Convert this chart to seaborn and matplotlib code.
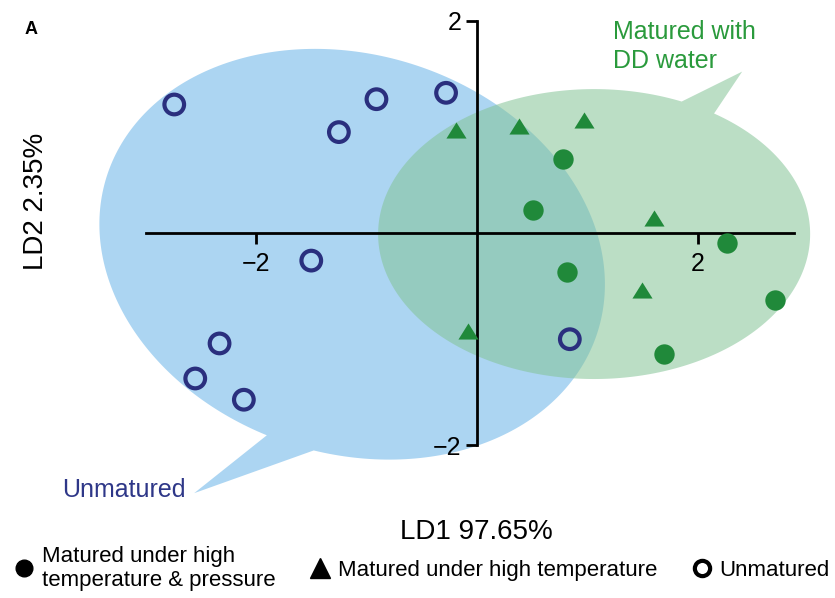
import numpy as np
import pandas as pd
import matplotlib
matplotlib.use("Agg")
import matplotlib.pyplot as plt
from matplotlib.patches import Polygon
from matplotlib.lines import Line2D
import seaborn as sns

# LDA scores
unmat_x = [-2.74, -0.91, -1.25, -0.28, -1.50, -2.33, -2.55, -2.11, 0.84]
unmat_y = [1.21, 1.26, 0.95, 1.32, -0.26, -1.04, -1.37, -1.57, -1.00]
htp_x = [0.78, 0.51, 2.26, 0.81, 2.70, 1.69]
htp_y = [0.70, 0.22, -0.09, -0.37, -0.63, -1.14]
ht_x = [-0.19, 0.38, 0.97, 1.60, 1.49, -0.08]
ht_y = [0.97, 1.01, 1.06, 0.14, -0.54, -0.92]

ld1_label = "LD1 97.65%"
ld2_label = "LD2 2.35%"
legend_labels = ["Matured under high\ntemperature & pressure",
                 "Matured under high temperature", "Unmatured"]

# speech bubbles: centre, semi-axes, angle (deg), tail (base1, tip, base2)
blue_bubble = dict(c=(-1.13, -0.20), a=2.34, b=1.87, ang=-20.5,
                   tail=[(-1.90, -1.90), (-2.56, -2.45), (-1.48, -2.06)])
green_bubble = dict(c=(1.06, -0.01), a=1.955, b=1.365, ang=0.0,
                    tail=[(1.86, 1.25), (2.40, 1.52), (2.15, 1.13)])

NAVY = "#2a2f7e"
GREEN = "#20893a"


def bubble_path(c, a, b, ang, tail):
    th = np.deg2rad(ang)
    rot = np.array([[np.cos(th), -np.sin(th)], [np.sin(th), np.cos(th)]])

    def param(p):
        d = rot.T @ (np.array(p) - np.array(c))
        return np.arctan2(d[1] / b, d[0] / a)

    b1, tip, b2 = tail
    t1, t2 = param(b1), param(b2)
    if (t2 - t1) % (2 * np.pi) < np.pi:
        start, end = t2, t1 + 2 * np.pi
    else:
        start, end = t1, t2 + 2 * np.pi
    while end - start > 2 * np.pi:
        end -= 2 * np.pi
    while end < start:
        end += 2 * np.pi
    t = np.linspace(start, end, 300)
    pts = np.stack([a * np.cos(t), b * np.sin(t)])
    pts = (rot @ pts).T + np.array(c)
    return np.vstack([pts, tip])


sns.set_theme(style="white")
plt.rcParams["font.family"] = ["Liberation Sans", "DejaVu Sans"]
plt.rcParams["text.color"] = "black"
plt.rcParams["xtick.color"] = "black"
plt.rcParams["ytick.color"] = "black"

fig = plt.figure(figsize=(8.35, 5.98), dpi=100)
ax = fig.add_axes([0, 0, 1, 1])
ax.set_xlim(-4.317, 3.24)
ax.set_ylim(-3.437, 2.194)
ax.set_axisbelow(False)

ax.add_patch(Polygon(bubble_path(**blue_bubble), closed=True,
                     facecolor="#acd5f2", edgecolor="none", zorder=0.2))
ax.add_patch(Polygon(bubble_path(**green_bubble), closed=True,
                     facecolor=(131 / 255, 195 / 255, 150 / 255), alpha=0.55,
                     edgecolor="none", zorder=0.3))

df = pd.concat([
    pd.DataFrame({"LD1": htp_x, "LD2": htp_y, "group": "htp"}),
    pd.DataFrame({"LD1": ht_x, "LD2": ht_y, "group": "ht"}),
    pd.DataFrame({"LD1": unmat_x, "LD2": unmat_y, "group": "un"}),
])

tri = [(-1, -0.8), (1, -0.8), (0, 0.8)]
sns.scatterplot(data=df[df.group == "htp"], x="LD1", y="LD2", marker="o",
                color=GREEN, s=215, linewidth=0, ax=ax, zorder=3, legend=False)
sns.scatterplot(data=df[df.group == "ht"], x="LD1", y="LD2", marker=tri,
                color=GREEN, s=210, linewidth=0, ax=ax, zorder=3, legend=False)
sns.scatterplot(data=df[df.group == "un"], x="LD1", y="LD2", marker="o",
                facecolor="none", edgecolor=NAVY, s=200, linewidth=3.0,
                ax=ax, zorder=3, legend=False)

# axes through the origin
for side in ["top", "right"]:
    ax.spines[side].set_visible(False)
ax.spines["left"].set_position(("data", 0))
ax.spines["bottom"].set_position(("data", 0))
ax.spines["left"].set_bounds(-2, 2)
ax.spines["bottom"].set_bounds(-3.0, 2.87)
for side in ["left", "bottom"]:
    ax.spines[side].set_linewidth(2)
    ax.spines[side].set_color("black")
ax.set_xticks([-2, 2])
ax.set_yticks([-2, 2])
ax.set_xticklabels(["\u22122", "2"])
ax.set_yticklabels(["\u22122", "2"])
ax.tick_params(axis="both", direction="out", length=8, width=2, colors="black",
               labelsize=18)
ax.tick_params(axis="x", pad=6, bottom=True, left=False)
ax.tick_params(axis="y", pad=3, left=True, bottom=False)
ax.set_xlabel("")
ax.set_ylabel("")
ax.grid(False)
ax.set_facecolor("white")

ax.text(0.571, 0.110, ld1_label, transform=ax.transAxes, ha="center",
        va="center", fontsize=20)
ax.text(0.043, 0.664, ld2_label, transform=ax.transAxes, ha="center",
        va="center", rotation=90, fontsize=20)
ax.text(0.037, 0.950, "A", transform=ax.transAxes, ha="center", va="center",
        fontsize=13, fontweight="bold")
ax.text(0.734, 0.922, "Matured with\nDD water", transform=ax.transAxes,
        ha="left", va="center", fontsize=18, color="#2a9a3c", linespacing=1.25)
ax.text(0.074, 0.181, "Unmatured", transform=ax.transAxes, ha="left",
        va="center", fontsize=18, color="#2e3788")

handles = [
    Line2D([], [], marker="o", linestyle="none", color="black", markersize=12),
    Line2D([], [], marker="^", linestyle="none", color="black", markersize=14),
    Line2D([], [], marker="o", linestyle="none", markerfacecolor="white",
           markeredgecolor="black", markeredgewidth=3, markersize=11),
]
ax.legend(handles, legend_labels, loc="lower center", bbox_to_anchor=(0.505, 0.012),
          ncol=3, frameon=False, fontsize=16, handletextpad=0.3,
          columnspacing=1.5, handlelength=1.0, borderpad=0, borderaxespad=0,
          labelspacing=0.2)

fig.savefig("out.png", dpi=100, facecolor="white")
